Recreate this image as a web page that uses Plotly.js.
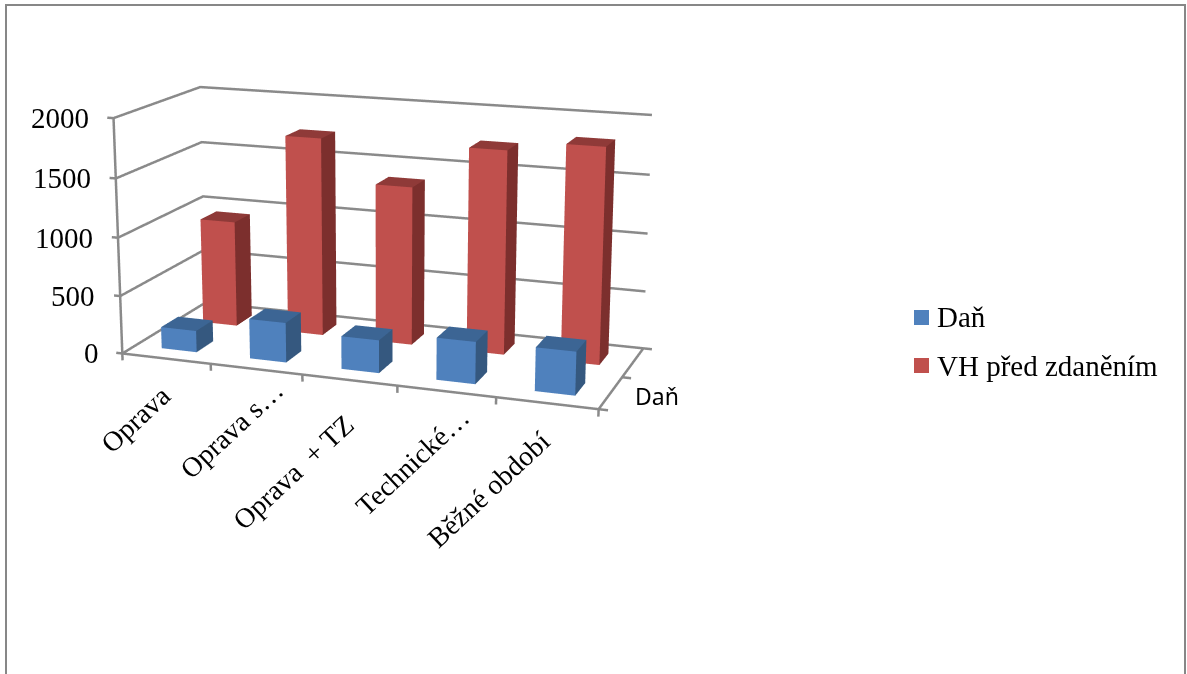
<!DOCTYPE html>
<html><head><meta charset="utf-8">
<script src="https://cdn.plot.ly/plotly-3.0.1.min.js"></script>
<style>html,body{margin:0;padding:0;background:#fff;overflow:hidden;width:1187px;height:674px}#chart{position:absolute;left:0}</style>
</head><body><div id="chart"></div>
<script>
const categories=['Oprava','Oprava s…','Oprava  + TZ','Technické…','Běžné období'];
const dan=[186,340,278,352,360];
const vh=[935,1730,1370,1740,1825];
const zTicks=[0,500,1000,1500,2000];
// per-label nudge of the slanted category text, in pixels
const labelDx=[13,36,13,32,12];
const labelDy=[10,-5,18,-1,11];
const W=1187;
const xR=[-0.2,5.2],yR=[0,2],zR=[-100,2100];
const [ex,ey,ez,ux,ay,az,f,px,py]=[1.1279,-3.1169,0.83384,-0.0013,0.3693,0.5,1817.0762,383.9126,241.49];
// The scene keeps a 45 degree field of view, so its height sets the focal length.
const H=2*f*Math.tan(Math.PI/8);const T=py-H/2;
const el=document.getElementById('chart');el.style.top=T+'px';el.style.width=W+'px';el.style.height=H+'px';
const X=x=>x/W,Y=y=>1-(y-T)/H;
function bars(vals,yc,cols,name){const x=[],y=[],z=[],i=[],j=[],k=[],fc=[];
 vals.forEach((v,n)=>{const x0=n+.3,x1=n+.7,y0=yc-.2,y1=yc+.2,b=x.length;
  [[x0,y0,0],[x1,y0,0],[x1,y0,v],[x0,y0,v],[x1,y1,0],[x1,y1,v],[x0,y1,v]].forEach(p=>{x.push(p[0]);y.push(p[1]);z.push(p[2])});
  [[0,1,2,0],[0,2,3,0],[3,2,5,1],[3,5,6,1],[1,4,5,2],[1,5,2,2]].forEach(t=>{i.push(b+t[0]);j.push(b+t[1]);k.push(b+t[2]);fc.push(cols[t[3]])});});
 return {type:'mesh3d',name,x,y,z,i,j,k,facecolor:fc,flatshading:true,hoverinfo:'skip',lighting:{ambient:1,diffuse:0,specular:0,roughness:1,fresnel:0}}}
const line=(x,y,z)=>({type:'scatter3d',mode:'lines',x,y,z,line:{color:'#8a8a8a',width:5},hoverinfo:'skip',showlegend:false});
const gx=[],gy=[],gz=[];
zTicks.forEach(t=>{gx.push(0,0,5,null);gy.push(0,2,2,null);gz.push(t,t,t,null)});
const ax=[],ayy=[],azz=[];
const seg=(a,b)=>{ax.push(a[0],b[0],null);ayy.push(a[1],b[1],null);azz.push(a[2],b[2],null)};
seg([0,0,0],[5,0,0]);seg([5,0,0],[5,2,0]);seg([0,0,0],[0,0,2000]);
[0,1,2,3,4,5].forEach(v=>seg([v,0,0],[v,0,-60]));
zTicks.forEach(t=>seg([0,0,t],[-.07,0,t]));
[0,1,2].forEach(v=>seg([5,v,0],[5.09,v,0]));
const serif='"Liberation Serif",serif';
const ann=[];
zTicks.forEach(t=>ann.push({x:0,y:0,z:t,text:String(t),showarrow:false,xanchor:'right',xshift:t===0?-21:-23,font:{family:serif,size:29,color:'#000'}}));
categories.forEach((c,n)=>ann.push({x:n+.5,y:0,z:0,text:c,showarrow:false,textangle:-43,xanchor:'right',yanchor:'top',xshift:labelDx[n],yshift:-8-labelDy[n],font:{family:serif,size:28,color:'#000'}}));
ann.push({x:5,y:.5,z:0,text:'Daň',showarrow:false,xanchor:'left',yanchor:'top',xshift:22,yshift:15,font:{family:'"Noto Sans",sans-serif',size:23,color:'#000'}});
const shapes=[{type:'path',xref:'paper',yref:'paper',path:`M${X(6)},${Y(674)} L${X(6)},${Y(5)} L${X(1185)},${Y(5)} L${X(1185)},${Y(674)}`,line:{color:'#878787',width:2}},
{type:'rect',xref:'paper',yref:'paper',x0:X(914),x1:X(929),y0:Y(310),y1:Y(325),fillcolor:'#4F81BD',line:{width:0}},
{type:'rect',xref:'paper',yref:'paper',x0:X(914),x1:X(929),y0:Y(358),y1:Y(373),fillcolor:'#C0504D',line:{width:0}}];
const layout={width:W,height:H,margin:{l:0,r:0,t:0,b:0},paper_bgcolor:'#fff',showlegend:false,shapes,
 annotations:[{xref:'paper',yref:'paper',x:X(935),y:Y(317),text:'Daň',showarrow:false,xanchor:'left',font:{family:serif,size:29,color:'#000'}},{xref:'paper',yref:'paper',x:X(935),y:Y(366),text:'VH před zdaněním',showarrow:false,xanchor:'left',font:{family:serif,size:29,color:'#000'}}],
 scene:{domain:{x:[0,2*px/W],y:[0,1]},aspectmode:'manual',aspectratio:{x:1,y:ay,z:az},camera:{eye:{x:ex,y:ey,z:ez},center:{x:0,y:0,z:-0.01136},up:{x:ux,y:0,z:1},projection:{type:'perspective'}},
 xaxis:{range:xR,visible:false},yaxis:{range:yR,visible:false},zaxis:{range:zR,visible:false},annotations:ann}};
Plotly.newPlot(el,[line(gx,gy,gz),line(ax,ayy,azz),bars(dan,.5,['#4F81BD','#3C6594','#35587F'],'Daň'),bars(vh,1.5,['#C0504D','#8F3A38','#7C2F2D'],'VH před zdaněním')],layout,{displayModeBar:false});
</script></body></html>
